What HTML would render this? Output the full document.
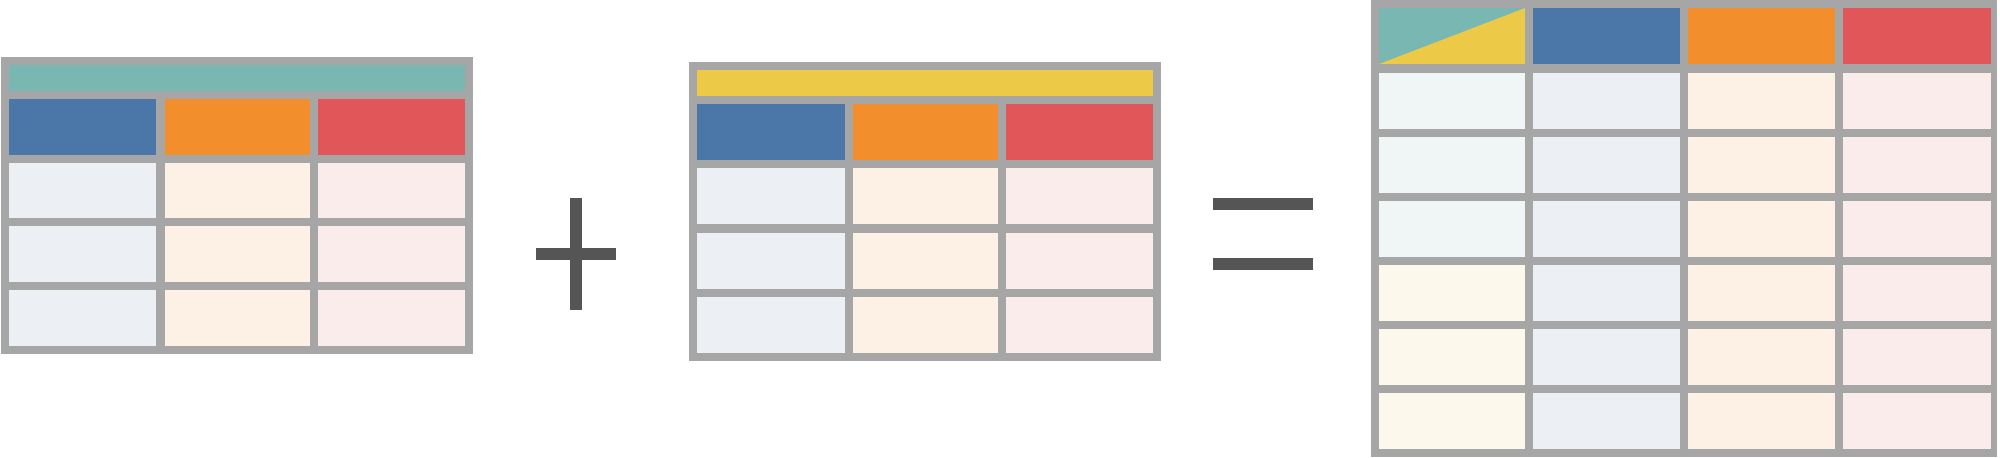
<!DOCTYPE html>
<html><head><style>html,body{margin:0;padding:0;background:#fff;width:2000px;height:458px;overflow:hidden}</style></head>
<body>
<svg width="2000" height="458" xmlns="http://www.w3.org/2000/svg">
<!-- Table 1 -->
<rect x="1" y="57" width="472" height="297" fill="#a6a6a6"/>
<rect x="9" y="65" width="456" height="26" fill="#78b7b2"/>
<rect x="9" y="99" width="147" height="56" fill="#4a77a8"/>
<rect x="165" y="99" width="145" height="56" fill="#f28e2b"/>
<rect x="318" y="99" width="147" height="56" fill="#e15759"/>
<g fill="#ecf0f5"><rect x="9" y="163" width="147" height="55"/><rect x="9" y="226" width="147" height="56"/><rect x="9" y="290" width="147" height="56"/></g>
<g fill="#fdf1e6"><rect x="165" y="163" width="145" height="55"/><rect x="165" y="226" width="145" height="56"/><rect x="165" y="290" width="145" height="56"/></g>
<g fill="#fbecec"><rect x="318" y="163" width="147" height="55"/><rect x="318" y="226" width="147" height="56"/><rect x="318" y="290" width="147" height="56"/></g>
<!-- plus -->
<rect x="570" y="198" width="12" height="112" fill="#555"/>
<rect x="536" y="248" width="80" height="12" fill="#555"/>
<!-- Table 2 -->
<rect x="689" y="62" width="472" height="299" fill="#a6a6a6"/>
<rect x="697" y="70" width="456" height="26" fill="#edc948"/>
<rect x="697" y="104" width="148" height="56" fill="#4a77a8"/>
<rect x="853" y="104" width="145" height="56" fill="#f28e2b"/>
<rect x="1006" y="104" width="147" height="56" fill="#e15759"/>
<g fill="#ecf0f5"><rect x="697" y="168" width="148" height="56"/><rect x="697" y="233" width="148" height="56"/><rect x="697" y="297" width="148" height="56"/></g>
<g fill="#fdf1e6"><rect x="853" y="168" width="145" height="56"/><rect x="853" y="233" width="145" height="56"/><rect x="853" y="297" width="145" height="56"/></g>
<g fill="#fbecec"><rect x="1006" y="168" width="147" height="56"/><rect x="1006" y="233" width="147" height="56"/><rect x="1006" y="297" width="147" height="56"/></g>
<!-- equals -->
<rect x="1213" y="198" width="100" height="12" fill="#555"/>
<rect x="1213" y="258" width="100" height="12" fill="#555"/>
<!-- Table 3 -->
<rect x="1371" y="0" width="626" height="457" fill="#a6a6a6"/>
<rect x="1379" y="8" width="146" height="56" fill="#edc948"/>
<polygon points="1379,8 1525,8 1379,64" fill="#78b7b2"/>
<rect x="1533" y="8" width="147" height="56" fill="#4a77a8"/>
<rect x="1688" y="8" width="147" height="56" fill="#f28e2b"/>
<rect x="1843" y="8" width="148" height="56" fill="#e15759"/>
<g fill="#f0f6f6"><rect x="1379" y="73" width="146" height="56"/><rect x="1379" y="137" width="146" height="56"/><rect x="1379" y="201" width="146" height="56"/></g>
<g fill="#fdf8ec"><rect x="1379" y="265" width="146" height="56"/><rect x="1379" y="329" width="146" height="56"/><rect x="1379" y="393" width="146" height="56"/></g>
<g fill="#ecf0f5"><rect x="1533" y="73" width="147" height="56"/><rect x="1533" y="137" width="147" height="56"/><rect x="1533" y="201" width="147" height="56"/><rect x="1533" y="265" width="147" height="56"/><rect x="1533" y="329" width="147" height="56"/><rect x="1533" y="393" width="147" height="56"/></g>
<g fill="#fdf1e6"><rect x="1688" y="73" width="147" height="56"/><rect x="1688" y="137" width="147" height="56"/><rect x="1688" y="201" width="147" height="56"/><rect x="1688" y="265" width="147" height="56"/><rect x="1688" y="329" width="147" height="56"/><rect x="1688" y="393" width="147" height="56"/></g>
<g fill="#fbecec"><rect x="1843" y="73" width="148" height="56"/><rect x="1843" y="137" width="148" height="56"/><rect x="1843" y="201" width="148" height="56"/><rect x="1843" y="265" width="148" height="56"/><rect x="1843" y="329" width="148" height="56"/><rect x="1843" y="393" width="148" height="56"/></g>
</svg>
</body></html>
